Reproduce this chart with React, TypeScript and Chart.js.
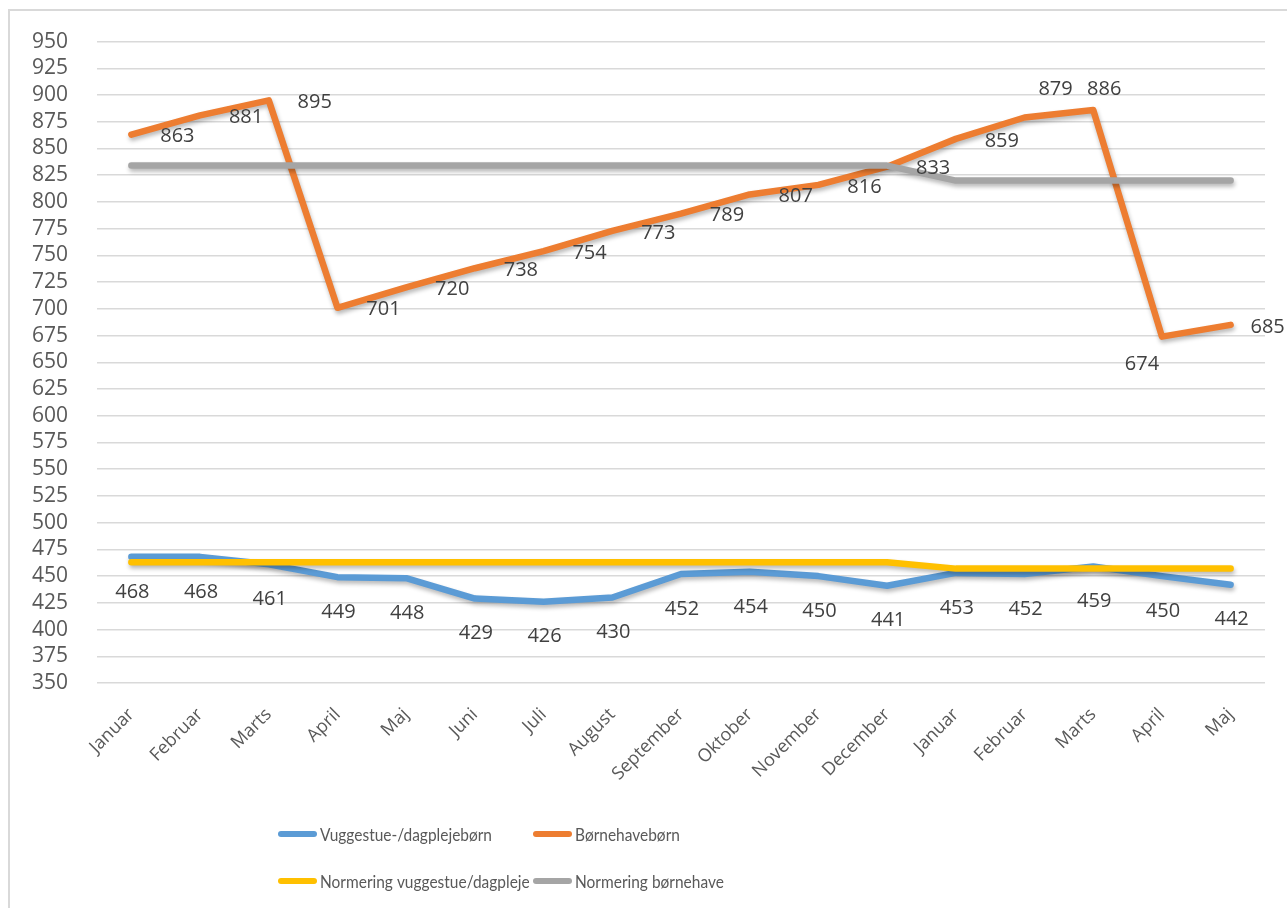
import React, { useEffect, useRef } from 'react';
import { Chart, registerables } from 'chart.js';

Chart.register(...registerables);

const months = [
  'Januar', 'Februar', 'Marts', 'April', 'Maj', 'Juni', 'Juli', 'August', 'September',
  'Oktober', 'November', 'December', 'Januar', 'Februar', 'Marts', 'April', 'Maj',
];

const vuggestueBoern = [468, 468, 461, 449, 448, 429, 426, 430, 452, 454, 450, 441, 453, 452, 459, 450, 442];
const boernehaveBoern = [863, 881, 895, 701, 720, 738, 754, 773, 789, 807, 816, 833, 859, 879, 886, 674, 685];
const normeringVuggestue = [463, 463, 463, 463, 463, 463, 463, 463, 463, 463, 463, 463, 457, 457, 457, 457, 457];
const normeringBoernehave = [834, 834, 834, 834, 834, 834, 834, 834, 834, 834, 834, 834, 820, 820, 820, 820, 820];

const yMin = 350;
const yMax = 950;
const yStep = 25;

const seriesNames = [
  'Vuggestue-/dagplejebørn',
  'Børnehavebørn',
  'Normering vuggestue/dagpleje',
  'Normering børnehave',
];
const seriesColors = ['#5B9BD5', '#ED7D31', '#FFC000', '#A5A5A5'];

// label placement (pixel offsets from the point to the label centre)
const R: [number, number] = [46, 2];
const orangeLabelOffsets: [number, number][] = [
  R, R, R, R, R, R, R, R, R, R, R, R, R, [31, -28], [11, -21], [-20, 28], [37, 2],
];
const B: [number, number] = [1, 35];
const blueLabelOffsets: [number, number][] = [B, B, B, B, B, B, B, B, B, B, B, B, B, B, B, B, B];

const TICK_FONT = "'Open Sans', 'Noto Sans', sans-serif";
const LEGEND_FONT = "Lato, 'Open Sans', sans-serif";
const LEGEND_FONT_SIZE = 18;
const LEGEND_FIRST_TEXT_WIDTH = 172;

const shadowPlugin = {
  id: 'lineShadow',
  beforeDatasetDraw(chart: any) {
    const ctx = chart.ctx;
    ctx.save();
    ctx.shadowColor = 'rgba(0,0,0,0.28)';
    ctx.shadowBlur = 4;
    ctx.shadowOffsetX = 1;
    ctx.shadowOffsetY = 3;
  },
  afterDatasetDraw(chart: any) {
    chart.ctx.restore();
  },
};

const dataLabelPlugin = {
  id: 'pointLabels',
  afterDatasetsDraw(chart: any) {
    const ctx = chart.ctx;
    ctx.save();
    ctx.font = `20px ${TICK_FONT}`;
    ctx.fillStyle = '#404040';
    ctx.textAlign = 'center';
    ctx.textBaseline = 'middle';
    chart.data.datasets.forEach((ds: any, i: number) => {
      if (!ds.labelOffsets) return;
      const meta = chart.getDatasetMeta(i);
      meta.data.forEach((pt: any, j: number) => {
        const off = ds.labelOffsets[j];
        ctx.fillText(String(ds.data[j]), pt.x + off[0], pt.y + off[1]);
      });
    });
    ctx.restore();
  },
};

const legendPlugin = {
  id: 'customLegend',
  afterDraw(chart: any) {
    const ctx = chart.ctx;
    const items = [
      { x: 281, y: 834 },
      { x: 536, y: 834 },
      { x: 281, y: 881 },
      { x: 536, y: 881 },
    ];
    ctx.save();
    ctx.font = `${LEGEND_FONT_SIZE}px ${LEGEND_FONT}`;
    const w = ctx.measureText(seriesNames[0]).width || LEGEND_FIRST_TEXT_WIDTH;
    const sx = Math.min(1, LEGEND_FIRST_TEXT_WIDTH / w);
    ctx.textBaseline = 'middle';
    ctx.textAlign = 'left';
    items.forEach((it, i) => {
      ctx.strokeStyle = seriesColors[i];
      ctx.lineWidth = 6;
      ctx.lineCap = 'round';
      ctx.beginPath();
      ctx.moveTo(it.x, it.y);
      ctx.lineTo(it.x + 33, it.y);
      ctx.stroke();
      ctx.save();
      ctx.translate(it.x + 39, it.y + 1);
      ctx.scale(sx, 1);
      ctx.fillStyle = '#595959';
      ctx.fillText(seriesNames[i], 0, 0);
      ctx.restore();
    });
    ctx.restore();
  },
};

function lineDataset(label: string, data: number[], color: string, order: number, extra: any = {}) {
  return {
    label,
    data,
    borderColor: color,
    backgroundColor: color,
    borderWidth: 6.5,
    pointRadius: 0,
    pointHoverRadius: 0,
    tension: 0,
    fill: false,
    borderCapStyle: 'round',
    borderJoinStyle: 'round',
    order,
    ...extra,
  };
}

export default function App() {
  const canvasRef = useRef<HTMLCanvasElement | null>(null);

  useEffect(() => {
    if (!canvasRef.current) return;
    const chart = new Chart(canvasRef.current, {
      type: 'line',
      data: {
        labels: months,
        datasets: [
          lineDataset(seriesNames[0], vuggestueBoern, seriesColors[0], 3, { labelOffsets: blueLabelOffsets }),
          lineDataset(seriesNames[1], boernehaveBoern, seriesColors[1], 2, { labelOffsets: orangeLabelOffsets }),
          lineDataset(seriesNames[2], normeringVuggestue, seriesColors[2], 1),
          lineDataset(seriesNames[3], normeringBoernehave, seriesColors[3], 0),
        ] as any,
      },
      options: {
        responsive: false,
        animation: false,
        layout: { padding: { left: 0, right: 22, top: 39, bottom: 0 } },
        plugins: {
          legend: { display: false },
          tooltip: { enabled: false },
          title: { display: false },
        },
        scales: {
          x: {
            offset: true,
            grid: { display: false, drawTicks: false },
            border: { display: false },
            afterFit: (s: any) => { s.height = 225; },
            ticks: {
              autoSkip: false,
              minRotation: 45,
              maxRotation: 45,
              padding: 21,
              color: '#595959',
              font: { family: TICK_FONT, size: 18 },
            },
          },
          y: {
            min: yMin,
            max: yMax,
            grid: { color: '#d9d9d9', lineWidth: 1.5, drawTicks: false },
            border: { display: false },
            afterFit: (s: any) => { s.width = 97; },
            ticks: {
              stepSize: yStep,
              autoSkip: false,
              padding: 29,
              color: '#595959',
              font: { family: TICK_FONT, size: 21 },
            },
          },
        },
      },
      plugins: [shadowPlugin, dataLabelPlugin, legendPlugin],
    });
    return () => chart.destroy();
  }, []);

  return (
    <div style={{ position: 'absolute', left: 0, top: 0, width: 1287, height: 908, overflow: 'hidden', background: '#fff' }}>
      <div
        style={{
          position: 'absolute', left: 8, top: 9, width: 1300, height: 920,
          borderLeft: '2px solid #d9d9d9', borderTop: '2px solid #d9d9d9',
        }}
      />
      <canvas ref={canvasRef} width={1287} height={908} style={{ position: 'absolute', left: 0, top: 0 }} />
    </div>
  );
}
